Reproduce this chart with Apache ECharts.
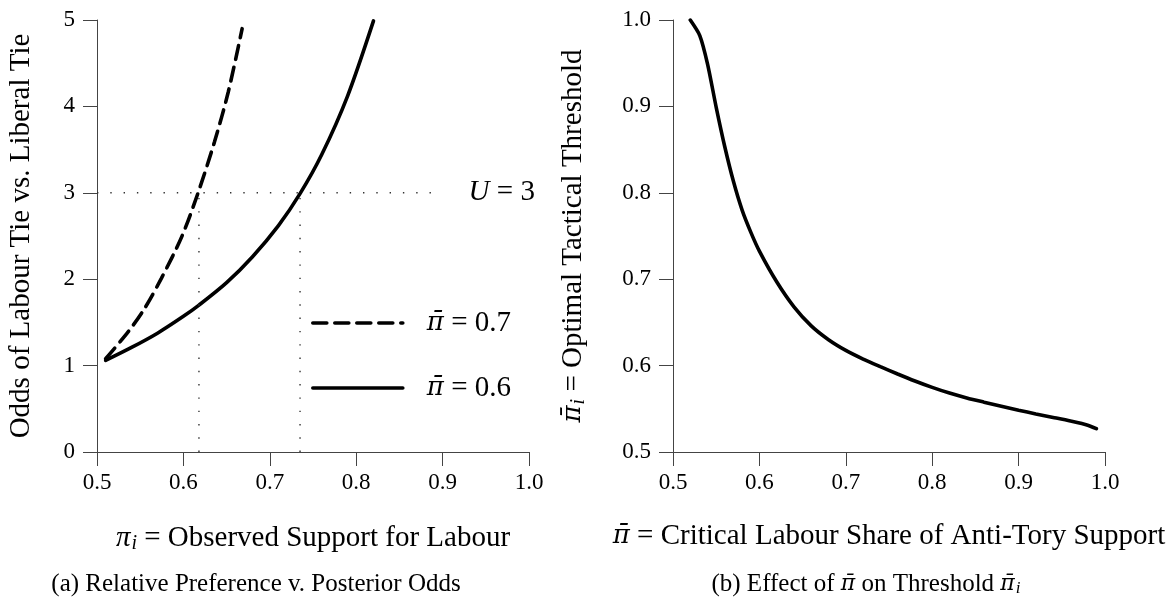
<!DOCTYPE html>
<html>
<head>
<meta charset="utf-8">
<script src="https://cdn.jsdelivr.net/npm/echarts@6/dist/echarts.min.js"></script>
<style>
html,body{margin:0;padding:0;background:#fff;}
#chart{width:1175px;height:603px;}
</style>
</head>
<body>
<div id="chart"></div>
<script>
// ---- Data ----
// Panel (a): odds of Labour tie vs Liberal tie against observed Labour support
const solidX = [0.51, 0.54, 0.57, 0.60, 0.618, 0.65, 0.68, 0.71, 0.735, 0.76, 0.79, 0.82];
const solidY = [1.06, 1.21, 1.375, 1.57, 1.70, 1.96, 2.26, 2.62, 2.99, 3.44, 4.12, 4.99];
const dashX = [0.51, 0.536, 0.555, 0.5745, 0.598, 0.617, 0.636, 0.652, 0.668];
const dashY = [1.08, 1.39, 1.66, 2.01, 2.49, 3.00, 3.59, 4.17, 4.90];
const uLevel = 3;
const uLineX = [0.5, 0.9];
const crossX = [0.618, 0.735];
// Panel (b): optimal tactical threshold against critical Labour share
const threshX = [0.52, 0.531, 0.54, 0.55, 0.56, 0.57, 0.58, 0.59, 0.60, 0.62, 0.64, 0.66, 0.68, 0.70, 0.72, 0.74, 0.76, 0.78, 0.80, 0.82, 0.84, 0.86, 0.88, 0.90, 0.92, 0.94, 0.96, 0.98, 0.99];
const threshY = [1.0, 0.982, 0.949, 0.899, 0.853, 0.813, 0.780, 0.7545, 0.7325, 0.697, 0.668, 0.646, 0.630, 0.6176, 0.6076, 0.5988, 0.5903, 0.5822, 0.5748, 0.5682, 0.5626, 0.5577, 0.5530, 0.5484, 0.5441, 0.5400, 0.5358, 0.5310, 0.527];
const xTicks = [0.5, 0.6, 0.7, 0.8, 0.9, 1.0];
const yTicksA = [0, 1, 2, 3, 4, 5];
const yTicksB = [0.5, 0.6, 0.7, 0.8, 0.9, 1.0];
const legendNames = ['π̄ = 0.7', 'π̄ = 0.6'];

const zip = (xs, ys) => xs.map((x, i) => [x, ys[i]]);
const FONT = 'Liberation Serif';
const PIFONT = 'DejaVu Serif';
const AX = '#444';
const TS = 29; // title font size
function mkRich(fs) {
  return {
    m: {fontFamily: FONT, fontStyle: 'italic', fontSize: fs, color: '#000'},
    p: {fontFamily: PIFONT, fontStyle: 'italic', fontSize: Math.round(fs * 0.88), color: '#000'},
    s: {fontFamily: FONT, fontStyle: 'italic', fontSize: Math.round(fs * 0.68), color: '#000', padding: [Math.round(fs * 0.4), 0, 0, 1]},
    n: {fontFamily: FONT, fontSize: fs, color: '#000'},
    sp: {width: 19}
  };
}
const rich = mkRich(TS);
const richC = mkRich(25);

function xAxis(gridIndex, name) {
  return {
    type: 'value', gridIndex, min: xTicks[0], max: xTicks[xTicks.length - 1], interval: 0.1,
    axisLine: {show: true, onZero: false, lineStyle: {color: AX, width: 1}},
    axisTick: {show: true, inside: false, length: 14, lineStyle: {color: AX, width: 1}},
    axisLabel: {margin: 19, fontFamily: FONT, fontSize: 23, color: '#000', formatter: v => v.toFixed(1)},
    splitLine: {show: false},
    name, nameLocation: 'middle', nameGap: 70,
    nameTextStyle: {fontFamily: FONT, fontSize: TS, color: '#000', rich}
  };
}
function yAxis(gridIndex, ticks, dec, name, gap) {
  return {
    type: 'value', gridIndex, min: ticks[0], max: ticks[ticks.length - 1], interval: +(ticks[1] - ticks[0]).toFixed(3),
    axisLine: {show: true, onZero: false, lineStyle: {color: AX, width: 1}},
    axisTick: {show: true, inside: false, length: 14, lineStyle: {color: AX, width: 1}},
    axisLabel: {margin: 22, fontFamily: FONT, fontSize: 23, color: '#000', formatter: v => v.toFixed(dec)},
    splitLine: {show: false},
    name, nameLocation: 'middle', nameGap: gap,
    nameTextStyle: {fontFamily: FONT, fontSize: TS, color: '#000', rich}
  };
}

const dotted = {color: '#333', width: 1.4, type: [1.4, 11.9], cap: 'butt'};

const option = {
  backgroundColor: '#fff',
  animation: false,
  grid: [
    {left: 97, top: 20, width: 432, height: 432},
    {left: 673, top: 20, width: 432, height: 432}
  ],
  xAxis: [
    xAxis(0, '{m|π}{s|i}{n| = Observed Support for Labour}'),
    xAxis(1, '{p|π̄}{n| = Critical Labour Share of Anti-Tory Support}')
  ],
  yAxis: [
    yAxis(0, yTicksA, 0, 'Odds of Labour Tie vs. Liberal Tie', 61),
    yAxis(1, yTicksB, 1, '{p|π̄}{s|i}{n| = Optimal Tactical Threshold}', 84)
  ],
  legend: {
    orient: 'vertical', left: 311, top: 308, padding: 0, itemWidth: 90, itemHeight: 14, itemGap: 35,
    itemStyle: {color: 'rgba(0,0,0,0)', borderWidth: 0, opacity: 0},
    lineStyle: {width: 3.6, color: '#000'},
    textStyle: {fontFamily: FONT, fontSize: TS, color: '#000', lineHeight: 30, rich},
    formatter: name => '{sp|}{p|π̄}{n| = ' + name.split('= ')[1] + '}',
    data: legendNames
  },
  series: [
    {type: 'line', name: legendNames[0], xAxisIndex: 0, yAxisIndex: 0, data: zip(dashX, dashY),
      showSymbol: false, symbol: 'none', smooth: 0.3, lineStyle: {color: '#000', width: 3.6, type: [14, 8], cap: 'round'},
      itemStyle: {color: '#000'}},
    {type: 'line', name: legendNames[1], xAxisIndex: 0, yAxisIndex: 0, data: zip(solidX, solidY),
      showSymbol: false, symbol: 'none', smooth: 0.3, lineStyle: {color: '#000', width: 3.6, type: 'solid', cap: 'round'},
      itemStyle: {color: '#000'}},
    {type: 'line', xAxisIndex: 0, yAxisIndex: 0, data: uLineX.map(x => [x, uLevel]), symbol: 'none', silent: true,
      lineStyle: dotted,
      endLabel: {show: true, distance: 26, formatter: () => '{m|U}{n| = ' + uLevel + '}', rich}},
    ...crossX.map(x => ({type: 'line', xAxisIndex: 0, yAxisIndex: 0, data: [[x, 0], [x, uLevel]], symbol: 'none', silent: true, lineStyle: dotted})),
    {type: 'line', xAxisIndex: 1, yAxisIndex: 1, data: zip(threshX, threshY),
      showSymbol: false, symbol: 'none', smooth: 0.25, lineStyle: {color: '#000', width: 3.6, cap: 'round'}}
  ],
  graphic: [
    {type: 'text', x: 256, y: 584, style: {text: '{n|(a) Relative Preference v. Posterior Odds}', rich: richC, align: 'center', verticalAlign: 'middle'}},
    {type: 'text', x: 866, y: 584, style: {text: '{n|(b) Effect of }{p|π̄}{n| on Threshold }{p|π̄}{s|i}', rich: richC, align: 'center', verticalAlign: 'middle'}}
  ]
};

const chart = echarts.init(document.getElementById('chart'), null, {renderer: 'canvas'});
chart.setOption(option);
</script>
</body>
</html>
